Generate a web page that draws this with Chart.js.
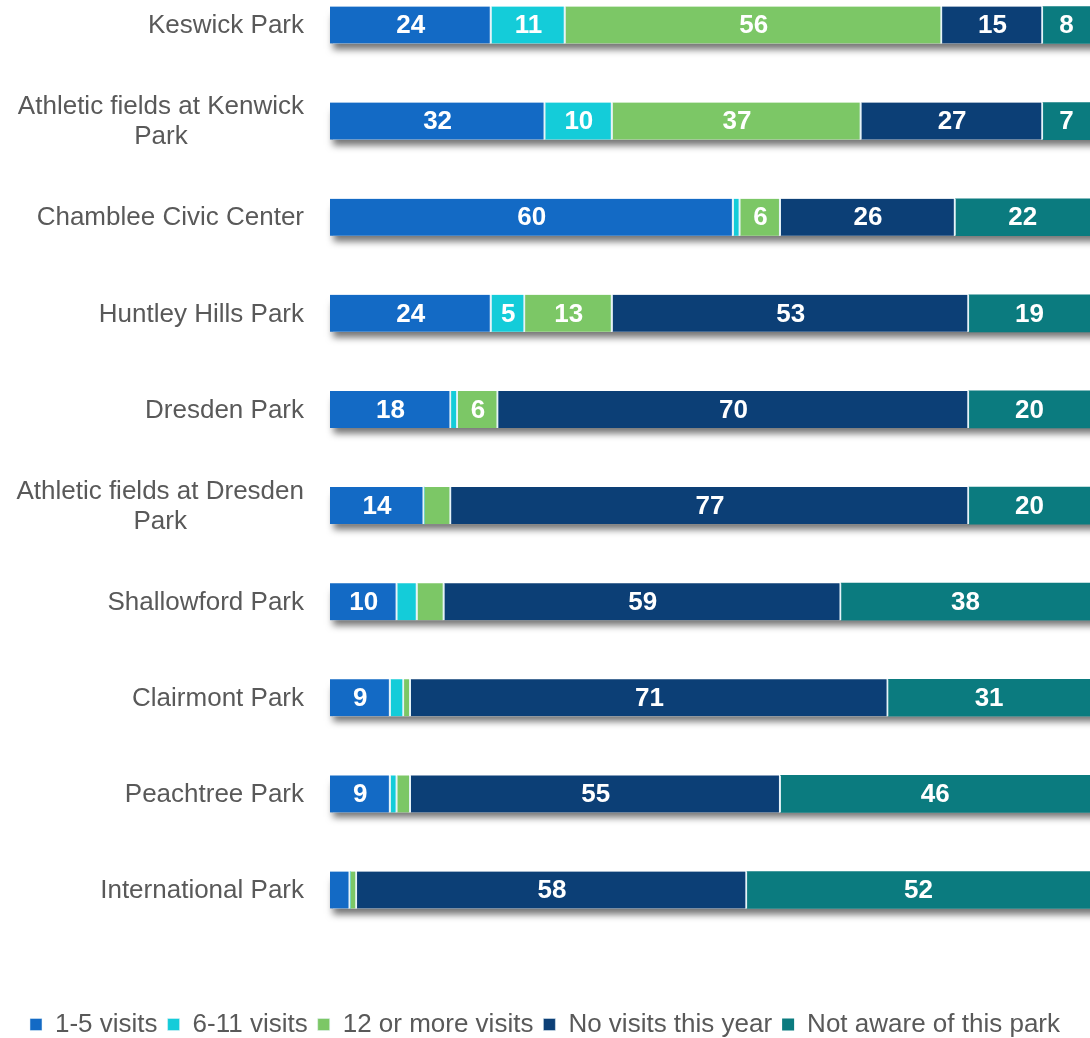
<!DOCTYPE html>
<html>
<head>
<meta charset="utf-8">
<script src="https://cdn.jsdelivr.net/npm/chart.js@4.4.0/dist/chart.umd.min.js"></script>
<style>
  html, body { margin: 0; padding: 0; background: #fff; overflow: hidden; }
  #wrap { width: 1090px; height: 1038px; position: relative; }
</style>
</head>
<body>
<div id="wrap"><canvas id="parkChart"></canvas></div>
<script>
const parks = [
  'Keswick Park',
  ['Athletic fields at Kenwick', 'Park'],
  'Chamblee Civic Center',
  'Huntley Hills Park',
  'Dresden Park',
  ['Athletic fields at Dresden', 'Park'],
  'Shallowford Park',
  'Clairmont Park',
  'Peachtree Park',
  'International Park'
];

const visits1to5   = [24, 32, 60, 24, 18, 14, 10, 9, 9, 3];
const visits6to11  = [11, 10, 1, 5, 1, 0, 3, 2, 1, 0];
const visits12plus = [56, 37, 6, 13, 6, 4, 4, 1, 2, 1];
const noVisits     = [15, 27, 26, 53, 70, 77, 59, 71, 55, 58];
const notAware     = [8, 7, 22, 19, 20, 20, 38, 31, 46, 52];

const seriesNames = ['1-5 visits', '6-11 visits', '12 or more visits', 'No visits this year', 'Not aware of this park'];
const seriesColors = ['#136AC5', '#14CCD9', '#7CC766', '#0C3F76', '#0B7B7F'];
const series = [visits1to5, visits6to11, visits12plus, noVisits, notAware];

const BAR_H = 37;
const FONT = "'Liberation Sans', Arial, sans-serif";

// grey drop shadow under every bar, painted before the segments
const barShadow = {
  id: 'barShadow',
  beforeDatasetsDraw(chart) {
    const { ctx } = chart;
    const xs = chart.scales.x, ys = chart.scales.y;
    ctx.save();
    parks.forEach((p, i) => {
      const total = series.reduce((s, arr) => s + arr[i], 0);
      const y = ys.getPixelForValue(i);
      const x0 = xs.getPixelForValue(0);
      const x1 = xs.getPixelForValue(total);
      ctx.shadowColor = 'rgba(0,0,0,0.55)';
      ctx.shadowBlur = 7;
      ctx.shadowOffsetY = 6;
      ctx.fillStyle = '#ffffff';
      ctx.fillRect(x0 + 3, y - BAR_H / 2 + 2, x1 - x0 + 10, BAR_H - 2);
    });
    ctx.restore();
  }
};

// white numbers inside segments that are wide enough
const segmentLabels = {
  id: 'segmentLabels',
  afterDatasetsDraw(chart) {
    const { ctx } = chart;
    ctx.save();
    ctx.fillStyle = '#ffffff';
    ctx.font = 'bold 26px ' + FONT;
    ctx.textAlign = 'center';
    ctx.textBaseline = 'middle';
    chart.data.datasets.forEach((ds, di) => {
      const meta = chart.getDatasetMeta(di);
      meta.data.forEach((bar, i) => {
        const v = ds.data[i];
        if (v < 5) return;
        const { x, base, y } = bar.getProps(['x', 'base', 'y'], true);
        const right = Math.min(x, chart.width);
        ctx.fillText(String(v), (base + right) / 2, y + 1);
      });
    });
    ctx.restore();
  }
};

// park names, right aligned; wrapped names centred on their widest line
const parkNames = {
  id: 'parkNames',
  afterDraw(chart) {
    const { ctx } = chart;
    const ys = chart.scales.y;
    const edge = chart.chartArea.left - 26;
    ctx.save();
    ctx.fillStyle = '#595959';
    ctx.font = '26px ' + FONT;
    ctx.textBaseline = 'middle';
    ctx.textAlign = 'center';
    parks.forEach((name, i) => {
      const lines = Array.isArray(name) ? name : [name];
      const widest = Math.max(...lines.map(l => ctx.measureText(l).width));
      const cx = edge - widest / 2;
      const yc = ys.getPixelForValue(i) + 1;
      const lh = 30;
      lines.forEach((l, k) => {
        ctx.fillText(l, cx, yc + (k - (lines.length - 1) / 2) * lh);
      });
    });
    ctx.restore();
  }
};

const ctx = document.getElementById('parkChart').getContext('2d');
new Chart(ctx, {
  type: 'bar',
  data: {
    labels: parks,
    datasets: series.map((vals, k) => ({
      label: seriesNames[k],
      data: vals,
      backgroundColor: seriesColors[k],
      borderColor: '#E6F3F8',
      borderWidth: { top: 0, left: 0, bottom: 0, right: k < series.length - 1 ? 2 : 0 },
      borderSkipped: false,
      barThickness: BAR_H,
      clip: false
    }))
  },
  options: {
    indexAxis: 'y',
    responsive: true,
    maintainAspectRatio: false,
    animation: false,
    layout: { padding: { top: 25, bottom: -9.5, left: 0, right: 0 } },
    scales: {
      x: {
        stacked: true,
        min: 0,
        max: 113,
        ticks: { display: false },
        grid: { display: false },
        border: { display: false },
        afterFit(s) { s.height = 111.5; }
      },
      y: {
        stacked: true,
        offset: false,
        ticks: { display: false },
        grid: { display: false },
        border: { display: false },
        afterFit(s) { s.width = 330; }
      }
    },
    plugins: {
      tooltip: { enabled: false },
      legend: {
        position: 'bottom',
        labels: {
          boxWidth: 12,
          boxHeight: 12,
          padding: 10,
          color: '#595959',
          font: { size: 26, family: FONT }
        }
      }
    }
  },
  plugins: [barShadow, segmentLabels, parkNames]
});
</script>
</body>
</html>
